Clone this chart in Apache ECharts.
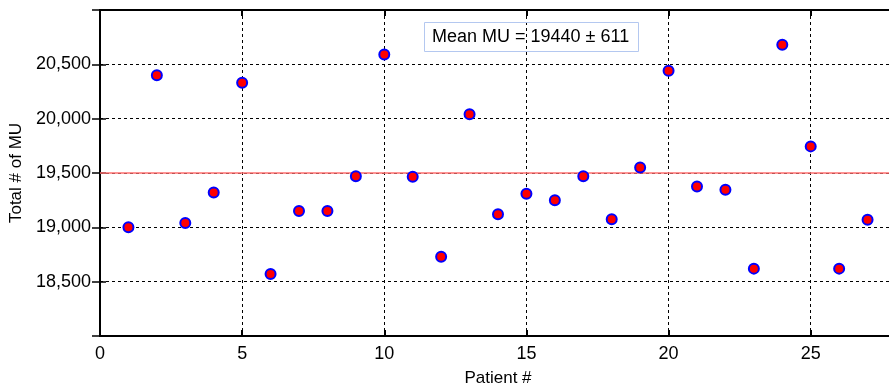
<!DOCTYPE html>
<html>
<head>
<meta charset="utf-8">
<script src="https://cdn.jsdelivr.net/npm/echarts@6/dist/echarts.min.js"></script>
<style>
  html, body { margin: 0; padding: 0; background: #fff; }
  #chart { width: 889px; height: 384px; }
</style>
</head>
<body>
<div id="chart"></div>
<script>
// patient number and total MU
const patients = [1, 2, 3, 4, 5, 6, 7, 8, 9, 10, 11, 12, 13, 14, 15, 16, 17, 18, 19, 20, 21, 22, 23, 24, 25, 26, 27];
const totalMU = [19000, 20400, 19040, 19320, 20330, 18570, 19150, 19150, 19470, 20590,
  19465, 18730, 20040, 19120, 19310, 19250, 19470, 19075, 19550, 20440,
  19375, 19345, 18620, 20680, 19745, 18620, 19070];
const refLine = 19500;
const boxText = 'Mean MU = 19440 \u00b1 611';
const xTicks = [0, 5, 10, 15, 20, 25];
const yTicks = [18500, 19000, 19500, 20000, 20500];

const FONT = 'Liberation Sans, Arial, sans-serif';
const points = patients.map((p, i) => [p, totalMU[i]]);

const chart = echarts.init(document.getElementById('chart'));

const gridLine = { show: true, lineStyle: { color: '#000', width: 1, type: [3, 3] } };
const frame = { show: true, lineStyle: { color: '#000', width: 2 } };

const option = {
  animation: false,
  backgroundColor: '#fff',
  title: {
    text: boxText,
    left: 424,
    top: 22,
    padding: [6, 10, 6, 8],
    borderColor: '#b4c8f0',
    borderWidth: 1,
    textStyle: { fontFamily: FONT, fontSize: 18, fontWeight: 'normal', color: '#000' }
  },
  grid: { left: 100, right: -7, top: 10, bottom: 48, outerBoundsMode: 'none', containLabel: false },
  xAxis: [
    {
      type: 'value',
      min: 0,
      max: 28,
      interval: 5,
      name: 'Patient #',
      nameLocation: 'middle',
      nameGap: 34,
      nameTextStyle: { fontFamily: FONT, fontSize: 17, color: '#000' },
      axisLine: frame,
      axisTick: { show: true, inside: true, length: 6, lineStyle: { color: '#000', width: 2 } },
      axisLabel: {
        fontFamily: FONT, fontSize: 18, color: '#000', margin: 9,
        formatter: v => xTicks.includes(v) ? String(v) : ''
      },
      splitLine: gridLine
    },
    {
      type: 'value',
      position: 'top',
      min: 0,
      max: 28,
      interval: 5,
      axisLine: frame,
      axisTick: { show: true, inside: true, length: 6, lineStyle: { color: '#000', width: 2 } },
      axisLabel: { show: false },
      splitLine: { show: false }
    }
  ],
  yAxis: [
    {
      type: 'value',
      min: 18000,
      max: 21000,
      interval: 500,
      name: 'Total # of MU',
      nameLocation: 'middle',
      nameGap: 67,
      nameTextStyle: { fontFamily: FONT, fontSize: 17, color: '#000' },
      axisLine: frame,
      axisTick: { show: true, inside: true, length: 6, lineStyle: { color: '#000', width: 1.5 } },
      axisLabel: {
        fontFamily: FONT, fontSize: 18, color: '#000', margin: 9,
        formatter: v => yTicks.includes(v) ? v.toLocaleString('en-US') : ''
      },
      splitLine: gridLine
    },
    {
      type: 'value',
      position: 'right',
      min: 18000,
      max: 21000,
      interval: 500,
      axisLine: frame,
      axisTick: { show: true, inside: true, length: 8, lineStyle: { color: '#000', width: 1.5 } },
      axisLabel: { show: false },
      splitLine: { show: false }
    }
  ],
  series: [
    {
      type: 'scatter',
      data: points,
      symbol: 'circle',
      symbolSize: 10,
      itemStyle: { color: '#ff0000', borderColor: '#0000ff', borderWidth: 2, opacity: 1 },
      markLine: {
        silent: true,
        symbol: ['none', 'none'],
        label: { show: false },
        lineStyle: { color: '#ff6f6f', width: 1.5, type: 'solid' },
        data: [{ yAxis: refLine }]
      },
      z: 5
    }
  ]
};

chart.setOption(option);
</script>
</body>
</html>
